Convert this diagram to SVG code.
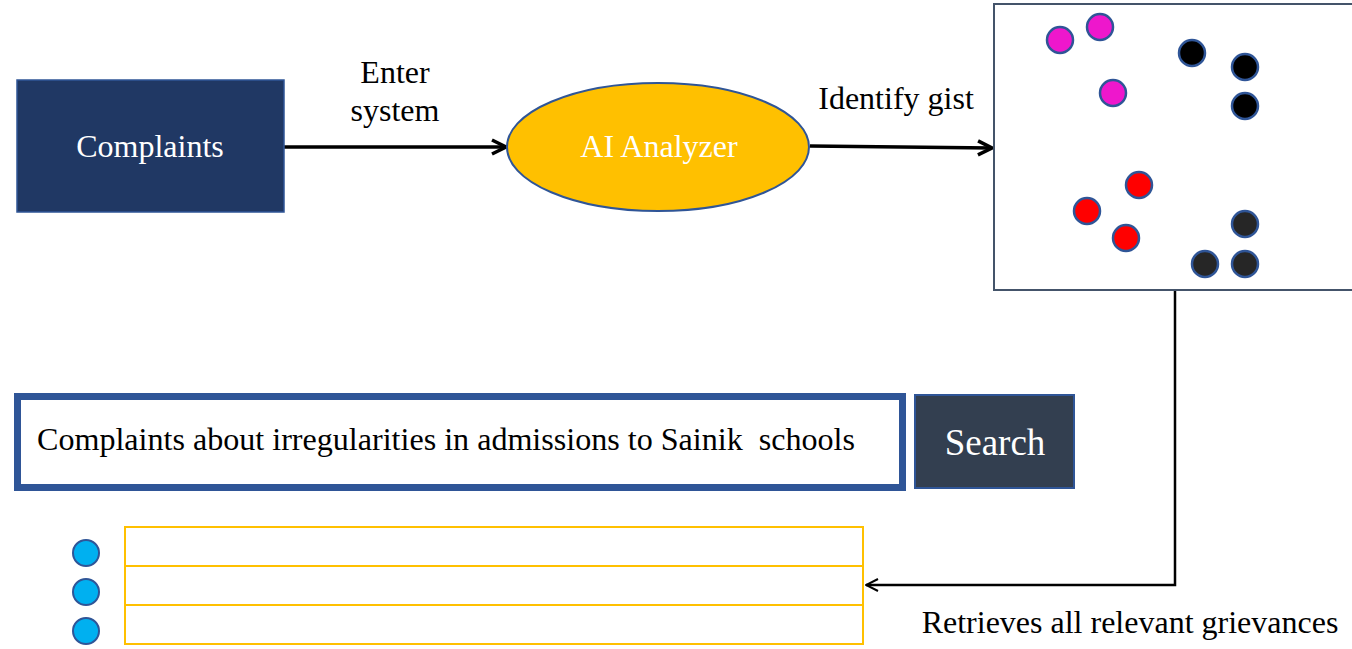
<svg xmlns="http://www.w3.org/2000/svg" width="1352" height="649" viewBox="0 0 1352 649">
<style>
text{font-family:"Liberation Serif","Times New Roman",serif;}
.lbl{font-size:32px;fill:#000;}
.wht{fill:#fff;}
.dot{stroke:#2F5597;stroke-width:2.5;}
.conn{fill:none;stroke:#000;}
.row{fill:#fff;stroke:#FFC000;stroke-width:2;}
.bullet{fill:#00B0F0;stroke:#2F5597;stroke-width:2;}
</style>
<defs>
<marker id="arr" viewBox="0 0 14 14" refX="13" refY="7" markerWidth="14" markerHeight="14" markerUnits="userSpaceOnUse" orient="auto">
<path d="M1,1 L13,7 L1,13" fill="none" stroke="#000" stroke-width="2"/>
</marker>
<marker id="arr2" viewBox="0 0 18 18" refX="16" refY="9" markerWidth="18" markerHeight="18" markerUnits="userSpaceOnUse" orient="auto">
<path d="M2,2 L16,9 L2,16" fill="none" stroke="#000" stroke-width="3.5"/>
</marker>
</defs>
<rect width="1352" height="649" fill="#fff"/>

<g id="connectors">
<line class="conn" x1="284" y1="147" x2="506" y2="147" stroke-width="3.5" marker-end="url(#arr2)"/>
<line class="conn" x1="810" y1="146" x2="992" y2="148" stroke-width="3.5" marker-end="url(#arr2)"/>
<polyline class="conn" points="1175,291 1175,585 866,585" stroke-width="2.5" marker-end="url(#arr)"/>
<text class="lbl" x="395" y="83" text-anchor="middle">Enter</text>
<text class="lbl" x="395" y="121" text-anchor="middle">system</text>
<text class="lbl" x="896" y="109" text-anchor="middle">Identify gist</text>
<text class="lbl" x="1130" y="633" text-anchor="middle">Retrieves all relevant grievances</text>
</g>

<g id="complaints">
<rect x="17" y="80" width="267" height="132" fill="#203864" stroke="#2F5597" stroke-width="1.5"/>
<text class="lbl wht" x="150" y="157" text-anchor="middle">Complaints</text>
</g>

<g id="ai-analyzer">
<ellipse cx="658" cy="147" rx="151" ry="64" fill="#FFC000" stroke="#2F5597" stroke-width="2"/>
<text class="lbl wht" x="659" y="157" text-anchor="middle">AI Analyzer</text>
</g>

<g id="clusters">
<rect x="994" y="4" width="362" height="286" fill="#fff" stroke="#44546A" stroke-width="2"/>
<circle class="dot" cx="1060" cy="40" r="13" fill="#EE17CC"/>
<circle class="dot" cx="1100" cy="27" r="13" fill="#EE17CC"/>
<circle class="dot" cx="1113" cy="93" r="13" fill="#EE17CC"/>
<circle class="dot" cx="1192" cy="53" r="13" fill="#000"/>
<circle class="dot" cx="1245" cy="67" r="13" fill="#000"/>
<circle class="dot" cx="1245" cy="106" r="13" fill="#000"/>
<circle class="dot" cx="1139" cy="185" r="13" fill="#FF0000"/>
<circle class="dot" cx="1087" cy="211" r="13" fill="#FF0000"/>
<circle class="dot" cx="1126" cy="238" r="13" fill="#FF0000"/>
<circle class="dot" cx="1245" cy="224" r="13" fill="#262626"/>
<circle class="dot" cx="1205" cy="264" r="13" fill="#262626"/>
<circle class="dot" cx="1245" cy="264" r="13" fill="#262626"/>
</g>

<g id="search-input">
<rect x="17.5" y="396.5" width="885" height="91" fill="#fff" stroke="#2F5597" stroke-width="7"/>
<text class="lbl" x="37" y="450" font-size="29" textLength="818" lengthAdjust="spacingAndGlyphs">Complaints about irregularities in admissions to Sainik&#160; schools</text>
</g>

<g id="search-button">
<rect x="915" y="395" width="159" height="93" fill="#333F50" stroke="#2F5597" stroke-width="2"/>
<text class="wht" x="995" y="455" font-size="37" text-anchor="middle">Search</text>
</g>

<g id="results">
<rect class="row" x="125" y="527" width="738" height="39"/>
<rect class="row" x="125" y="566" width="738" height="39"/>
<rect class="row" x="125" y="605" width="738" height="39"/>
<ellipse class="bullet" cx="86" cy="553" rx="13" ry="13"/>
<ellipse class="bullet" cx="86" cy="592" rx="13" ry="13"/>
<ellipse class="bullet" cx="86" cy="631" rx="13" ry="13"/>
</g>
</svg>
